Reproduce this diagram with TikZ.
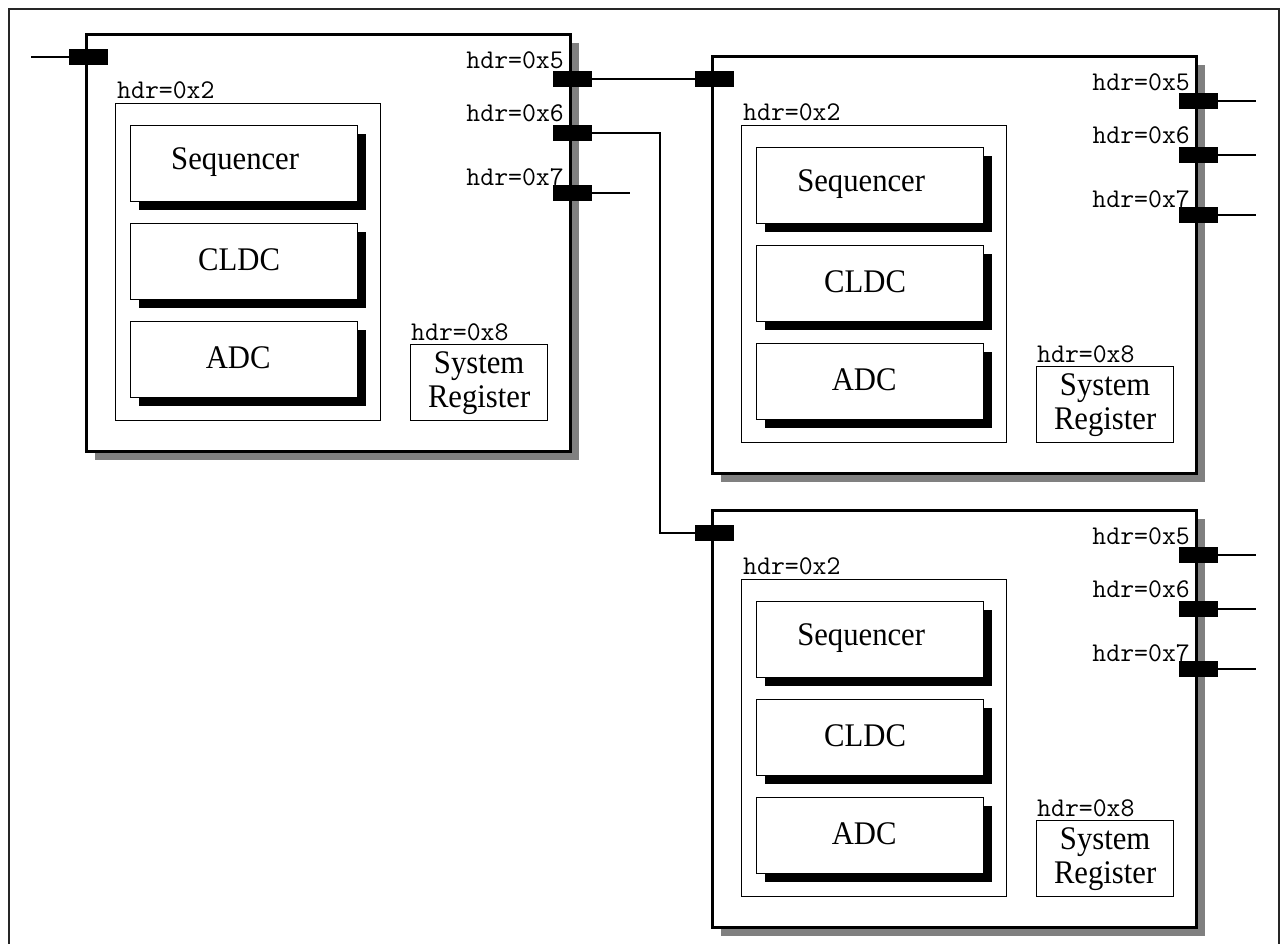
\documentclass[tikz,border=0pt]{standalone}
\usepackage{fontspec}
\setmainfont{Liberation Serif}[FakeStretch=0.93]
\usetikzlibrary{shadows}

\tikzset{
  modbox/.style={draw, line width=3pt, fill=white, inner sep=0pt, anchor=north west,
    minimum width=484pt, minimum height=417pt,
    drop shadow={shadow xshift=8pt, shadow yshift=-8pt, fill=black!50, opacity=1}},
  groupbox/.style={draw, line width=1.3pt, inner sep=0pt, anchor=north west,
    minimum width=265pt, minimum height=317pt},
  unitbox/.style={draw, line width=1.3pt, fill=white, inner sep=0pt, anchor=north west,
    minimum width=227pt, minimum height=76pt,
    drop shadow={shadow xshift=8pt, shadow yshift=-8pt, fill=black, opacity=1}},
  regbox/.style={draw, line width=1.3pt, inner sep=0pt, anchor=north west,
    minimum width=137pt, minimum height=76pt, lbl},
  port/.style={fill=black, inner sep=0pt, minimum width=39pt, minimum height=16pt},
  hdr/.style={font=\fontsize{27}{29}\selectfont\ttfamily, inner sep=0pt},
  lbl/.style={font=\fontsize{33}{34}\selectfont, align=center},
  wire/.style={line width=1.3pt},
  frame/.style={line width=1.5pt, draw=black!85},
}

% One processing module: outer box, functional units, register and ports
\newcommand\drawmodule[3]{%
  \begin{scope}[shift={(#2,#3)}]
    \node[modbox] (#1) at (85,33) {};
    \node[hdr, anchor=west] at (117,90) {hdr=0x2};
    \node[groupbox] (#1-grp) at (115,103) {};
    \node[unitbox] (#1-seq) at (130,125) {};
    \node[unitbox] (#1-cldc) at (130,223) {};
    \node[unitbox] (#1-adc) at (130,321) {};
    \node[lbl] at ([xshift=-9pt, yshift=2pt]#1-seq.center) {Sequencer};
    \node[lbl] at ([xshift=-5pt, yshift=2pt]#1-cldc.center) {CLDC};
    \node[lbl] at ([xshift=-6pt, yshift=2pt]#1-adc.center) {ADC};
    \node[hdr, anchor=west] at (411,332) {hdr=0x8};
    \node[regbox] (#1-reg) at (410,344) {System\\Register};
    \node[hdr, anchor=east] at (564,60) {hdr=0x5};
    \node[hdr, anchor=east] at (564,113) {hdr=0x6};
    \node[hdr, anchor=east] at (564,177) {hdr=0x7};
    \node[port] (#1-in) at (88.5,57) {};
    \node[port] (#1-p5) at (572.5,79) {};
    \node[port] (#1-p6) at (572.5,133) {};
    \node[port] (#1-p7) at (572.5,193) {};
    \coordinate (#1-s5) at (630,79);
    \coordinate (#1-s6) at (630,133);
    \coordinate (#1-s7) at (630,193);
  \end{scope}}

\begin{document}
\begin{tikzpicture}[x=1pt, y=-1pt]
  \useasboundingbox (0,0) rectangle (1282,943);
  \clip (0,0) rectangle (1282,943);
  \fill[white] (0,0) rectangle (1282,943);

  % surrounding frame
  \draw[frame] (9,960) -- (9,9) -- (1279,9) -- (1279,960);

  \drawmodule{m1}{0}{0}
  \drawmodule{m2}{626}{22}
  \drawmodule{m3}{626}{476}

  % links
  \coordinate (m1-sin) at (31,57);
  \coordinate (bend) at (660,0);
  \draw[wire] (m1-sin) -- (m1-in.west);
  \draw[wire] (m1-p5.east) -- (m2-in.west);
  \draw[wire] (m1-p6.east) -| (bend |- m3-in.west) -- (m3-in.west);
  \draw[wire] (m1-p7.east) -- (m1-s7);
  \draw[wire] (m2-p5.east) -- (m2-s5);
  \draw[wire] (m2-p6.east) -- (m2-s6);
  \draw[wire] (m2-p7.east) -- (m2-s7);
  \draw[wire] (m3-p5.east) -- (m3-s5);
  \draw[wire] (m3-p6.east) -- (m3-s6);
  \draw[wire] (m3-p7.east) -- (m3-s7);
\end{tikzpicture}
\end{document}
